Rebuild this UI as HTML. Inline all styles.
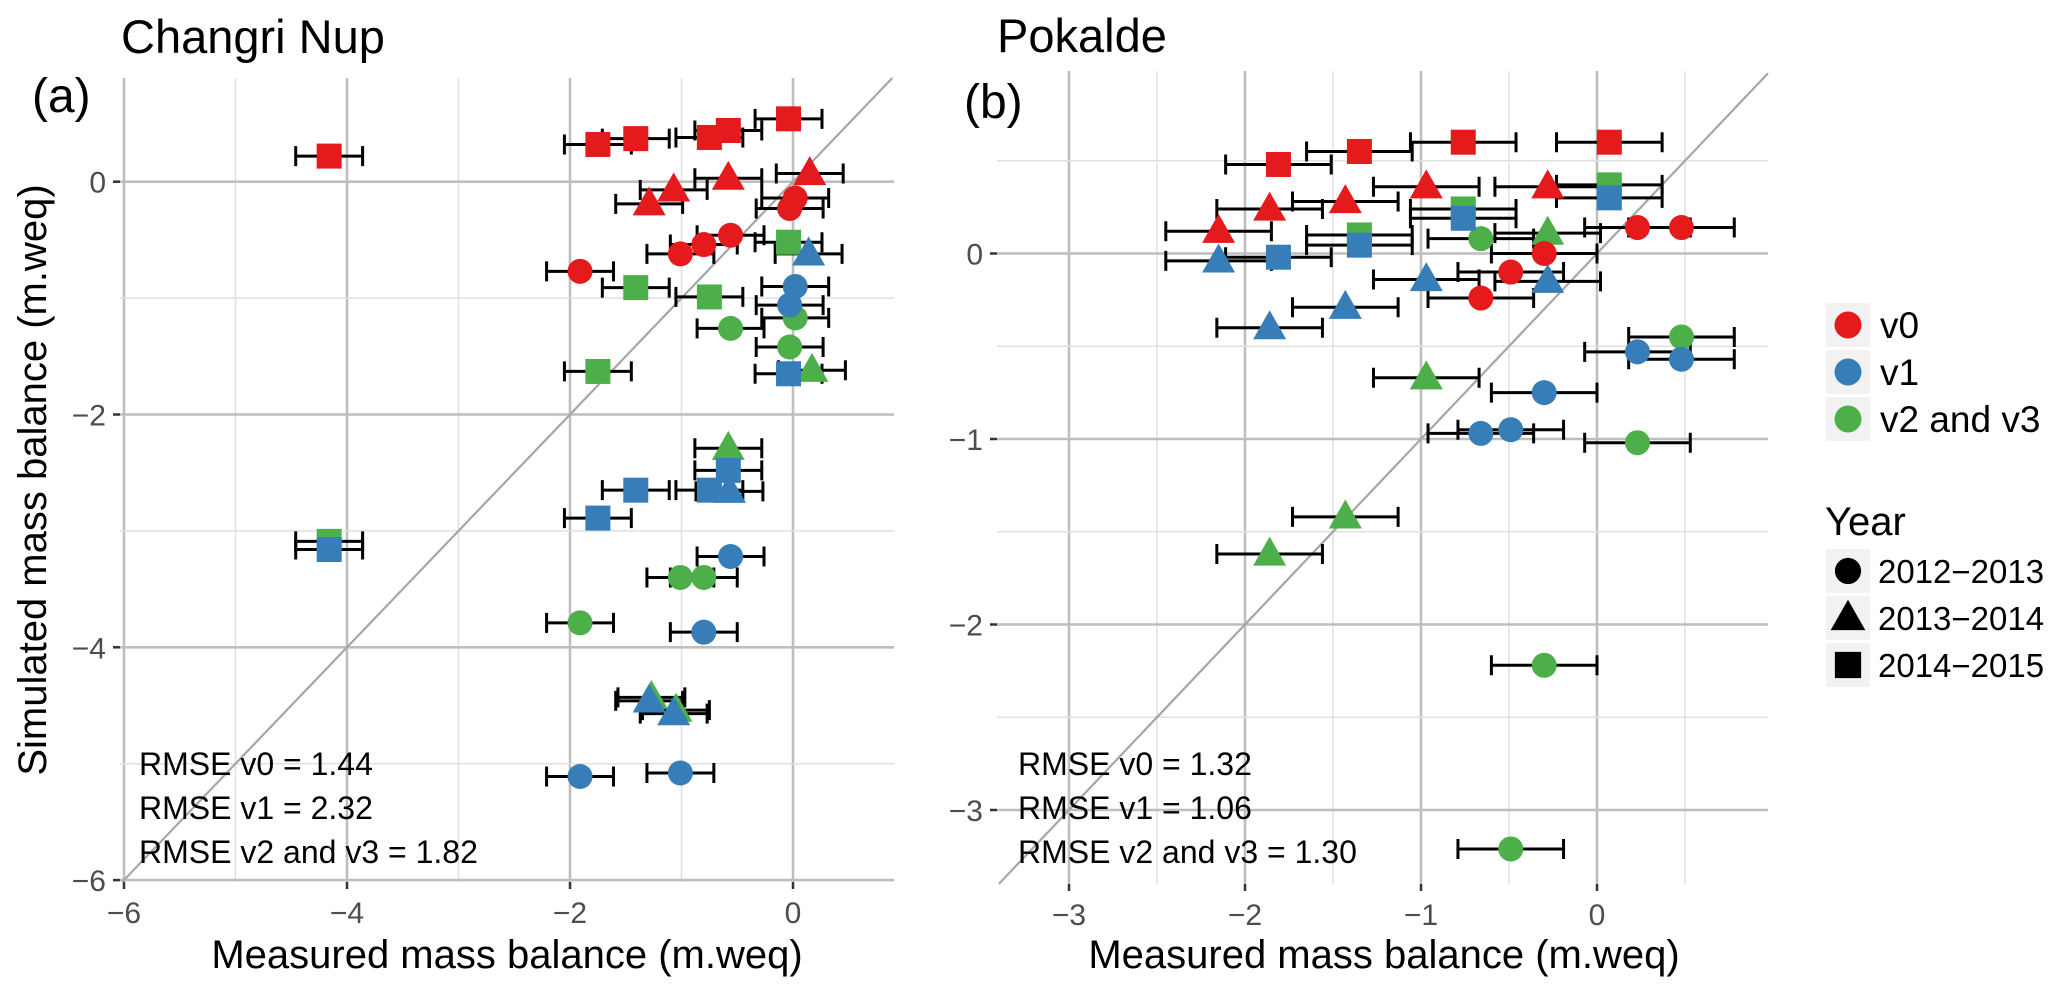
<!DOCTYPE html>
<html><head><meta charset="utf-8">
<style>
html,body{margin:0;padding:0;background:#fff;}
svg{display:block;font-family:"Liberation Sans",Arial,sans-serif;}
</style></head>
<body>
<svg id="chart" width="2067" height="995" viewBox="0 0 2067 995" xmlns="http://www.w3.org/2000/svg">
  <rect x="0" y="0" width="2067" height="995" fill="#fff"/>
  <g id="panelA"></g>
  <g id="panelB"></g>
  <text x="121" y="53" font-size="47" fill="#000">Changri Nup</text>
  <text x="32" y="112" font-size="48" fill="#000">(a)</text>
  <text x="997" y="52" font-size="47" fill="#000">Pokalde</text>
  <text x="964" y="118" font-size="48" fill="#000">(b)</text>
  <text transform="translate(46,480) rotate(-90)" text-anchor="middle" font-size="40" fill="#000">Simulated mass balance (m.weq)</text>
  <text x="507" y="968" text-anchor="middle" font-size="40" fill="#000">Measured mass balance (m.weq)</text>
  <text x="1384" y="968" text-anchor="middle" font-size="40" fill="#000">Measured mass balance (m.weq)</text>
  <g font-size="32" fill="#000">
    <text x="139" y="775">RMSE v0 = 1.44</text>
    <text x="139" y="819">RMSE v1 = 2.32</text>
    <text x="139" y="863">RMSE v2 and v3 = 1.82</text>
  </g>
  <g font-size="32" fill="#000">
    <text x="1018" y="775">RMSE v0 = 1.32</text>
    <text x="1018" y="819">RMSE v1 = 1.06</text>
    <text x="1018" y="863">RMSE v2 and v3 = 1.30</text>
  </g>
  <g id="legend"></g>
</svg>
<script>
// ---- data: panel a (Changri Nup) ----
const aMeasured = [-4.16,-1.75,-1.41,-0.75,-0.58,-0.04, 0.15,-0.58,-1.07,-1.29, 0.02,-0.03,-0.56,-0.80,-1.01,-1.91,
  -0.04,-1.41,-0.75,-1.75,-4.16, 0.02,-0.56,-0.03,-1.01,-0.80,-1.91, 0.17,-0.58,-1.27,-1.05,
  0.14,-0.57,-1.29,-1.07, 0.02,-0.03,-0.56,-0.80,-1.91,-1.01, -0.04,-0.58,-0.75,-1.41,-1.75,-4.16];
const aSimulated = [0.22,0.32,0.37,0.38,0.44,0.54, 0.07,0.03,-0.07,-0.19, -0.14,-0.23,-0.46,-0.54,-0.62,-0.77,
  -0.52,-0.91,-0.99,-1.63,-3.09, -1.17,-1.26,-1.42,-3.40,-3.40,-3.79, -1.62,-2.29,-4.43,-4.54,
  -0.62,-2.66,-4.46,-4.57, -0.90,-1.06,-3.22,-3.87,-5.11,-5.08, -1.65,-2.48,-2.65,-2.65,-2.89,-3.16];
const aVersion = [0,0,0,0,0,0, 0,0,0,0, 0,0,0,0,0,0, 2,2,2,2,2, 2,2,2,2,2,2, 2,2,2,2, 1,1,1,1, 1,1,1,1,1,1, 1,1,1,1,1,1];
const aYear = [2,2,2,2,2,2, 1,1,1,1, 0,0,0,0,0,0, 2,2,2,2,2, 0,0,0,0,0,0, 1,1,1,1, 1,1,1,1, 0,0,0,0,0,0, 2,2,2,2,2,2];
// ---- data: panel b (Pokalde) ----
const bMeasured = [-1.81,-1.35,-0.76,0.07, -2.15,-1.86,-1.43,-0.97,-0.28, 0.23,0.48,-0.30,-0.49,-0.66,
  -1.35,-0.76,0.07, -0.28,-0.97,-1.43,-1.86, -0.66,0.48,0.23,-0.30,-0.49,
  -1.81,-1.35,-0.76,0.07, -2.15,-1.86,-1.43,-0.97,-0.28, 0.23,0.48,-0.30,-0.66,-0.49];
const bSimulated = [0.48,0.55,0.60,0.60, 0.12,0.24,0.28,0.36,0.36, 0.14,0.14,0.00,-0.10,-0.24,
  0.10,0.24,0.37, 0.11,-0.67,-1.42,-1.62, 0.08,-0.45,-1.02,-2.22,-3.21,
  -0.02,0.045,0.19,0.30, -0.04,-0.40,-0.29,-0.14,-0.15, -0.53,-0.57,-0.75,-0.97,-0.95];
const bVersion = [0,0,0,0, 0,0,0,0,0, 0,0,0,0,0, 2,2,2, 2,2,2,2, 2,2,2,2,2, 1,1,1,1, 1,1,1,1,1, 1,1,1,1,1];
const bYear = [2,2,2,2, 1,1,1,1,1, 0,0,0,0,0, 2,2,2, 1,1,1,1, 0,0,0,0,0, 2,2,2,2, 1,1,1,1,1, 0,0,0,0,0];
const errHalf = 0.3;
const versionLabels = ["v0","v1","v2 and v3"];
const yearLabels = ["2012\u22122013","2013\u22122014","2014\u22122015"];
const aXTicks = [-6,-4,-2,0], aYTicks = [0,-2,-4,-6];
const bXTicks = [-3,-2,-1,0], bYTicks = [0,-1,-2,-3];

const colors = ["#e41a1c","#377eb8","#4daf4a"];
const NS = "http://www.w3.org/2000/svg";
function mk(tag, attrs, parent){const e=document.createElementNS(NS,tag);for(const k in attrs)e.setAttribute(k,attrs[k]);if(parent)parent.appendChild(e);return e;}

function shape(g, yr, cx, cy, fill, s){
  let e;
  s = s||1;
  if(yr===0){ e=mk("circle",{cx:cx,cy:cy,r:12.5*s,fill:fill},g); }
  else if(yr===1){ const w=16.5*s,h=29*s; e=mk("polygon",{points:`${cx},${cy-h*0.6} ${cx-w},${cy+h*0.4} ${cx+w},${cy+h*0.4}`,fill:fill},g); }
  else { const h=12.5*s; e=mk("rect",{x:cx-h,y:cy-h,width:2*h,height:2*h,fill:fill},g); }
  return e;
}

function panel(gid, px, opt){
  const g=document.getElementById(gid);
  const X=v=>opt.x0+v*opt.sx, Y=v=>opt.y0-v*opt.sy;
  mk("rect",{x:opt.L,y:opt.T,width:opt.R-opt.L,height:opt.B-opt.T,fill:"#fff"},g);
  for(let v=Math.ceil((opt.L-opt.x0)/opt.sx/opt.step*2)*opt.step/2; X(v)<=opt.R; v+=opt.step/2){
    const major=Math.abs(Math.round(v/opt.step)*opt.step-v)<1e-6;
    const l=mk("line",{x1:X(v),x2:X(v),y1:opt.T,y2:opt.B,stroke:major?"#bebebe":"#e0e0e0","stroke-width":major?2.6:1.5},g);
    
    
  }
  for(let v=Math.floor((opt.y0-opt.T)/opt.sy/opt.step*2)*opt.step/2; Y(v)<=opt.B; v-=opt.step/2){
    const major=Math.abs(Math.round(v/opt.step)*opt.step-v)<1e-6;
    const l=mk("line",{x1:opt.L,x2:opt.R,y1:Y(v),y2:Y(v),stroke:major?"#bebebe":"#e0e0e0","stroke-width":major?2.6:1.5},g);
    
    
  }
  const lo=Math.max((opt.L-opt.x0)/opt.sx,(opt.y0-opt.B)/opt.sy), hi=Math.min((opt.R-opt.x0)/opt.sx,(opt.y0-opt.T)/opt.sy);
  const d=mk("line",{x1:X(lo),y1:Y(lo),x2:X(hi),y2:Y(hi),stroke:"#a6a6a6","stroke-width":2.2},g);
  
  
  opt.xticks.forEach(v=>{
    mk("line",{x1:X(v),x2:X(v),y1:opt.B,y2:opt.B+7,stroke:"#333","stroke-width":2.5},g);
    const t=mk("text",{x:X(v),y:opt.B+41,"text-anchor":"middle","font-size":30,fill:"#4d4d4d"},g);
    t.textContent=(v<0?"\u2212":"")+Math.abs(v);
    
    
  });
  opt.yticks.forEach(v=>{
    mk("line",{x1:opt.L-7,x2:opt.L,y1:Y(v),y2:Y(v),stroke:"#333","stroke-width":2.5},g);
    const t=mk("text",{x:opt.L-14,y:Y(v)+11,"text-anchor":"end","font-size":30,fill:"#4d4d4d"},g);
    t.textContent=(v<0?"\u2212":"")+Math.abs(v);
    
    
  });
  px.m.forEach((m,i)=>{
    const y=Y(px.s[i]), x1=X(m-errHalf), x2=X(m+errHalf);
    const eb=mk("path",{d:`M${x1},${y}H${x2}M${x1},${y-10}V${y+10}M${x2},${y-10}V${y+10}`,stroke:"#000","stroke-width":3,fill:"none"},g);
    
    
  });
  [2,1,0].forEach(ver=>{
    px.m.forEach((m,i)=>{
      if(px.v[i]!==ver) return;
      const p=shape(g,px.y[i],X(m),Y(px.s[i]),colors[ver]);
      
      
    });
  });
}

panel("panelA",{m:aMeasured,s:aSimulated,v:aVersion,y:aYear},
  {x0:793,sx:111.5,y0:181.7,sy:116.4,L:120,R:894,T:78,B:882,step:2,xticks:aXTicks,yticks:aYTicks});
panel("panelB",{m:bMeasured,s:bSimulated,v:bVersion,y:bYear},
  {x0:1597,sx:176,y0:253.5,sy:185.5,L:997,R:1768,T:71,B:884,step:1,xticks:bXTicks,yticks:bYTicks});

const lg=document.getElementById("legend");
const keyY=[303,350,397];
versionLabels.forEach((lab,i)=>{
  mk("rect",{x:1826,y:keyY[i],width:44,height:44,fill:"#f2f2f2"},lg);
  const c=mk("circle",{cx:1848,cy:keyY[i]+22,r:13.5,fill:colors[i]},lg);
  
  
  const t=mk("text",{x:1880,y:keyY[i]+35,"font-size":37,fill:"#000"},lg);
  t.textContent=lab;
  
  
});
const yt=mk("text",{x:1825,y:535,"font-size":40,fill:"#000"},lg);
yt.textContent="Year";


const yKeyY=[549,596,643];
yearLabels.forEach((lab,i)=>{
  mk("rect",{x:1826,y:yKeyY[i],width:44,height:44,fill:"#f2f2f2"},lg);
  const s=shape(lg,i,1848,yKeyY[i]+22,"#000",1.05);
  
  
  const t=mk("text",{x:1878,y:yKeyY[i]+34,"font-size":33,fill:"#000"},lg);
  t.textContent=lab;
  
  
});
</script>
</body></html>
